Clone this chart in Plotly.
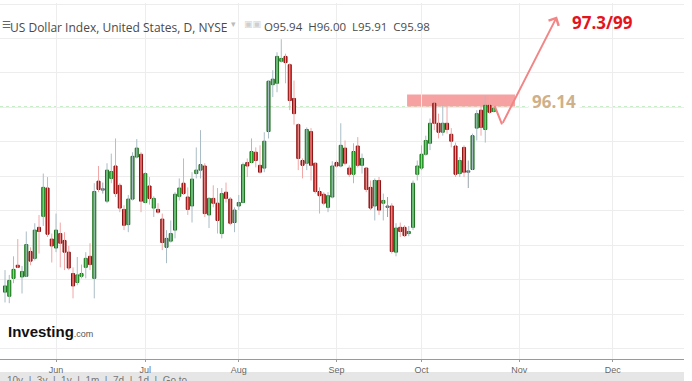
import numpy as np
import pandas as pd
import plotly.graph_objects as go

# ---------------- data ----------------
start_date = "2018-05-16"
month_labels = ["Jun", "Jul", "Aug", "Sep", "Oct", "Nov", "Dec"]

open_ = [93.46, 93.40, 93.66, 93.85, 93.68, 93.69, 94.05, 93.95, 94.40, 94.56,
         94.97, 94.23, 94.10, 94.31, 94.21, 94.04, 93.73, 93.60, 93.69, 93.82,
         93.98, 93.66, 95.07, 94.95, 94.78, 95.11, 95.29, 95.01, 94.66, 94.44,
         94.81, 95.42, 95.46, 94.76, 95.00, 94.68, 94.66, 94.52, 94.11, 94.20,
         94.36, 94.85, 95.04, 94.84, 94.71, 95.18, 95.23, 95.29, 94.58, 94.82,
         94.75, 94.31, 94.91, 94.81, 94.47, 94.71, 94.76, 95.34, 95.34, 95.49,
         95.30, 95.26, 95.79, 96.47, 96.49, 96.81, 96.88, 96.76, 96.27, 95.89,
         95.37, 95.33, 95.79, 95.33, 94.92, 94.88, 94.69, 94.84, 95.34, 95.29,
         95.55, 95.26, 95.17, 95.58, 95.30, 95.26, 94.98, 94.71, 95.08, 94.75,
         94.69, 94.71, 94.04, 94.40, 94.40, 94.31, 94.40, 95.17, 95.26, 95.46,
         95.62, 96.20, 95.91, 95.78, 95.91, 95.75, 95.58, 95.18, 95.56, 95.20,
         95.24, 95.84, 96.10, 95.82, 96.17, 96.08]
high = [93.78, 93.71, 93.98, 94.23, 93.84, 94.34, 94.11, 94.46, 94.58, 95.18,
        95.13, 94.31, 94.60, 94.47, 94.33, 94.13, 93.82, 93.97, 93.86, 94.04,
        94.17, 95.04, 95.29, 95.05, 95.33, 95.47, 95.69, 95.04, 94.72, 94.87,
        95.49, 95.68, 95.49, 95.20, 95.13, 94.85, 94.75, 94.60, 94.36, 94.50,
        94.91, 95.11, 95.40, 94.98, 95.20, 95.56, 95.81, 95.33, 94.84, 95.01,
        94.97, 94.97, 95.05, 94.84, 94.69, 94.87, 95.34, 95.40, 95.69, 95.56,
        95.59, 95.78, 96.53, 96.68, 96.94, 97.13, 96.92, 96.78, 96.53, 95.91,
        95.40, 95.85, 95.84, 95.34, 94.98, 94.91, 94.91, 95.36, 95.37, 95.91,
        95.66, 95.30, 95.62, 95.71, 95.47, 95.27, 95.08, 95.11, 95.13, 94.89,
        94.84, 94.75, 94.46, 94.47, 94.43, 94.42, 95.08, 95.37, 95.59, 95.73,
        95.98, 96.21, 96.05, 96.17, 96.17, 95.84, 95.63, 95.42, 95.59, 95.37,
        95.76, 96.10, 96.17, 96.31, 96.31, 96.14]
low = [93.31, 93.30, 93.59, 93.81, 93.44, 93.68, 93.85, 93.92, 94.02, 94.42,
       94.26, 93.89, 94.04, 93.82, 93.78, 93.78, 93.37, 93.56, 93.66, 93.66,
       93.78, 93.37, 94.91, 94.89, 94.75, 95.04, 94.84, 94.62, 94.36, 94.33,
       94.79, 95.40, 94.62, 94.75, 94.73, 94.55, 94.60, 94.07, 93.88, 94.18,
       94.24, 94.79, 94.87, 94.58, 94.47, 95.11, 95.11, 94.55, 94.39, 94.69,
       94.31, 94.24, 94.76, 94.43, 94.33, 94.65, 94.75, 95.13, 95.33, 95.27,
       95.18, 95.20, 95.69, 96.29, 96.36, 96.79, 96.49, 96.10, 95.89, 95.23,
       95.11, 95.23, 95.08, 94.89, 94.60, 94.72, 94.62, 94.82, 95.27, 95.27,
       95.30, 95.13, 95.04, 95.27, 95.18, 94.91, 94.65, 94.50, 94.58, 94.50,
       94.55, 94.02, 93.98, 94.26, 94.26, 94.27, 94.36, 95.08, 95.23, 95.44,
       95.52, 95.81, 95.69, 95.73, 95.76, 95.56, 95.13, 95.13, 95.13, 94.97,
       95.23, 95.66, 95.73, 95.63, 96.05, 96.07]
close = [93.55, 93.63, 93.79, 93.82, 93.76, 94.15, 93.91, 94.36, 94.34, 94.98,
         94.30, 94.13, 94.36, 94.17, 94.04, 93.81, 93.55, 93.71, 93.73, 93.95,
         93.86, 94.92, 94.95, 94.94, 95.23, 95.21, 94.89, 94.68, 94.43, 94.81,
         95.43, 95.55, 94.78, 95.18, 94.82, 94.82, 94.62, 94.18, 94.24, 94.31,
         94.88, 94.97, 94.89, 94.66, 95.10, 95.23, 95.31, 94.60, 94.82, 94.75,
         94.50, 94.89, 94.82, 94.46, 94.65, 94.76, 95.31, 95.29, 95.50, 95.37,
         95.20, 95.65, 96.52, 96.55, 96.88, 96.85, 96.79, 96.24, 96.05, 95.40,
         95.30, 95.82, 95.30, 94.92, 94.86, 94.75, 94.86, 95.29, 95.29, 95.59,
         95.33, 95.17, 95.50, 95.30, 95.40, 94.95, 94.68, 95.08, 94.65, 94.79,
         94.70, 94.05, 94.39, 94.34, 94.28, 94.34, 95.04, 95.29, 95.46, 95.66,
         95.91, 95.91, 95.78, 95.91, 95.82, 95.65, 95.17, 95.37, 95.20, 95.21,
         95.73, 96.05, 95.85, 96.17, 96.07, 96.13]

level_value = 96.14
level_text = "96.14"
target_text = "97.3/99"
header_name = "US Dollar Index, United States, D, NYSE"
header_ohlc = "O95.94&nbsp;&nbsp;H96.00&nbsp;&nbsp;L95.91&nbsp;&nbsp;C95.98"
range_buttons = ["10y", "3y", "1y", "1m", "7d", "1d", "Go to"]

# ---------------- derived ----------------
O = np.array(open_); H = np.array(high); L = np.array(low); C = np.array(close)
n = len(O)
all_days = pd.bdate_range(start_date, "2018-12-31")
dates = all_days[:n]
xi = np.arange(n)
month_idx = [int(np.argmax(all_days.month == m)) for m in range(6, 13)]

eps = 0.012
up = C > O + eps
down = C < O - eps
flat = ~(up | down)
base = np.minimum(O, C)
height = np.maximum(np.abs(C - O), 0.02)


def wick_xy(mask):
    xs, ys = [], []
    for i in xi[mask]:
        xs += [i, i, None]
        ys += [L[i], H[i], None]
    return xs, ys


fig = go.Figure()
for mask, col in [(up, "#a9bcc6"), (down, "#f2a6a6"), (flat, "#9aa4ac")]:
    wx, wy = wick_xy(mask)
    fig.add_trace(go.Scatter(x=wx, y=wy, mode="lines",
                             line=dict(color=col, width=1), hoverinfo="skip"))
for mask, fill, edge in [(up, "#2fb72f", "#1d6f1d"),
                         (down, "#cc1e1e", "#861414"),
                         (flat, "#8a9096", "#5c6268")]:
    fig.add_trace(go.Bar(x=xi[mask], y=height[mask], base=base[mask], width=0.72,
                         marker=dict(color=fill, line=dict(color=edge, width=1)),
                         customdata=dates[mask].strftime("%Y-%m-%d")))

x_left, x_right = -1.18, 159.76
y_bot, y_top = 92.49, 97.655

# resistance zone
fig.add_shape(type="rect", xref="x", yref="y", x0=94.6, x1=120.0,
              y0=96.154, y1=96.328, fillcolor="#f7a2a2", line=dict(width=0),
              layer="below")
# level line
fig.add_shape(type="line", xref="paper", yref="y", x0=0, x1=1,
              y0=level_value, y1=level_value,
              line=dict(color="#22b322", width=1.3, dash="dot"), layer="below")

# check-shaped projection arrow
arrow_col = "#f28585"
fig.add_annotation(x=116.94, y=95.894, ax=115.06, ay=96.183, xref="x", yref="y",
                   axref="x", ayref="y", showarrow=True, arrowhead=0,
                   arrowwidth=2, arrowcolor=arrow_col, text="")
fig.add_annotation(x=129.88, y=97.459, ax=116.94, ay=95.894, xref="x", yref="y",
                   axref="x", ayref="y", showarrow=True, arrowhead=4,
                   arrowsize=1.1, arrowwidth=2, arrowcolor=arrow_col, text="")

fig.add_annotation(x=129.1, y=96.227, xref="x", yref="y", text="<b>%s</b>" % level_text,
                   showarrow=False, font=dict(family="Open Sans", size=17, color="#cfb089"),
                   bgcolor="white", borderpad=3)
fig.add_annotation(x=140.6, y=97.379, xref="x", yref="y", text="<b>%s</b>" % target_text,
                   showarrow=False, font=dict(family="Open Sans", size=17, color="#e3141c"))


def py(p):  # pixel row -> paper y
    return (359 - p) / 356.0


def px(p):
    return p / 684.0


# header
fig.add_annotation(x=px(0), y=py(17), xref="paper", yref="paper", xanchor="left",
                   text="☰", showarrow=False, font=dict(family="DejaVu Sans", size=10, color="#666"))
fig.add_annotation(x=px(8), y=py(17), xref="paper", yref="paper", xanchor="left",
                   text=header_name, showarrow=False,
                   font=dict(family="Open Sans", size=12, color="#4a4a4a"))
fig.add_annotation(x=px(229), y=py(17), xref="paper", yref="paper", xanchor="left",
                   text="▾", showarrow=False, font=dict(family="DejaVu Sans", size=9, color="#bbb"))
fig.add_annotation(x=px(242), y=py(17), xref="paper", yref="paper", xanchor="left",
                   text="▣▣", showarrow=False, font=dict(family="DejaVu Sans", size=9, color="#cfcfcf"))
fig.add_annotation(x=px(262), y=py(17), xref="paper", yref="paper", xanchor="left",
                   text=header_ohlc, showarrow=False,
                   font=dict(family="Open Sans", size=11.5, color="#4a4a4a"))

# logo
fig.add_annotation(x=px(6), y=py(342), xref="paper", yref="paper", xanchor="left",
                   text="<b>Investing</b><span style='font-size:9px;color:#555'>.com</span>",
                   showarrow=False, font=dict(family="Liberation Sans", size=15, color="#111"))

# bottom range bar
fig.add_shape(type="rect", xref="paper", yref="paper", x0=0, x1=1,
              y0=py(381), y1=py(372), fillcolor="#e6e6e6", line=dict(width=0), layer="below")
sep = "&nbsp;&nbsp;|&nbsp;&nbsp;"
fig.add_annotation(x=px(6), y=py(374), xref="paper", yref="paper", xanchor="left",
                   yanchor="top", text=sep.join(range_buttons), borderpad=0,
                   showarrow=False, font=dict(family="Liberation Sans", size=10, color="#777"))

fig.update_layout(
    width=692, height=381,
    margin=dict(l=0, r=8, t=3, b=22),
    paper_bgcolor="white", plot_bgcolor="white",
    showlegend=False, barmode="overlay",
    xaxis=dict(range=[x_left, x_right], tickmode="array", tickvals=month_idx,
               ticktext=month_labels, showgrid=True, gridcolor="#ededed",
               zeroline=False, showline=True, linecolor="#9a9a9a", linewidth=1,
               ticks="outside", ticklen=2, tickcolor="#9a9a9a",
               tickfont=dict(family="Liberation Sans", size=9, color="#666")),
    yaxis=dict(range=[y_bot, y_top], tick0=level_value, dtick=0.5,
               showticklabels=False, showgrid=True, gridcolor="#ededed",
               zeroline=False, showline=False, ticks=""),
)

fig.write_html("out.html")
